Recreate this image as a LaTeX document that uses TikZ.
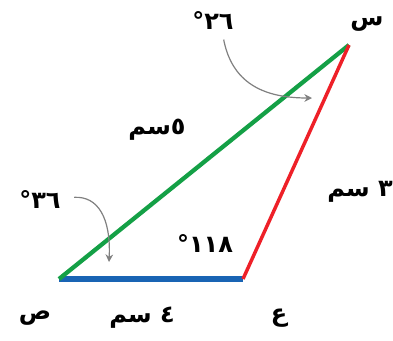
\documentclass[tikz,border=0pt]{standalone}
\usepackage{fontspec}
\newfontfamily\arabicfont[Script=Arabic]{DejaVu Sans}
\TeXXeTstate=1
\usetikzlibrary{arrows.meta,positioning}
\definecolor{sidegreen}{RGB}{20,160,70}
\definecolor{sidered}{RGB}{238,32,40}
\definecolor{sideblue}{RGB}{25,100,180}
\begin{document}
\begin{tikzpicture}[x=0.75pt,y=-0.75pt,
 lbl/.style={font=\arabicfont\fontsize{18}{20}\selectfont\bfseries,inner sep=0pt},
 hint/.style={draw=gray,line width=0.9pt,-{Stealth[length=2mm,width=2mm]}}]
\useasboundingbox[fill=white] (0,0) rectangle (393,340);
% vertices
\coordinate (sin) at (349,45);
\coordinate (sad) at (59,279);
\coordinate (ain) at (243,279);
% sides
\draw[sideblue,line width=3.8pt] (sad) -- (ain);
\draw[sidegreen,line width=3.2pt] (sad) -- (sin);
\draw[sidered,line width=2.6pt] (ain) -- (sin);
% labels
\node[lbl] (lsin) at (367,24) {\beginR س\endR};
\node[lbl] (lsad) at (35,318) {\beginR ص\endR};
\node[lbl] (lain) at (279,318) {\beginR ع\endR};
\node[lbl] (sidea) at (142,318) {\beginR ٤ سم\endR};
\node[lbl] (sideb) at (360,192) {\beginR ٣ سم\endR};
\node[lbl] (sidec) at (157,130) {\beginR ٥سم\endR};
\node[lbl] (angain) at (205,244) {\beginR\beginL ١١٨\endL°\endR};
\node[lbl] (angsad) at (40,200) {\beginR\beginL ٣٦\endL°\endR};
\node[lbl] (angsin) at (213,21) {\beginR\beginL ٢٦\endL°\endR};
% arrows to the angles
\coordinate (tipsin) at (312,98);
\coordinate (tipsad) at (109,262);
\draw[hint] ([xshift=8pt,yshift=-7pt]angsin.south) .. controls (232,82) and (262,98) .. (tipsin);
\draw[hint] ([xshift=10pt,yshift=2pt]angsad.east) .. controls (98,196) and (111,218) .. (tipsad);
\end{tikzpicture}
\end{document}
